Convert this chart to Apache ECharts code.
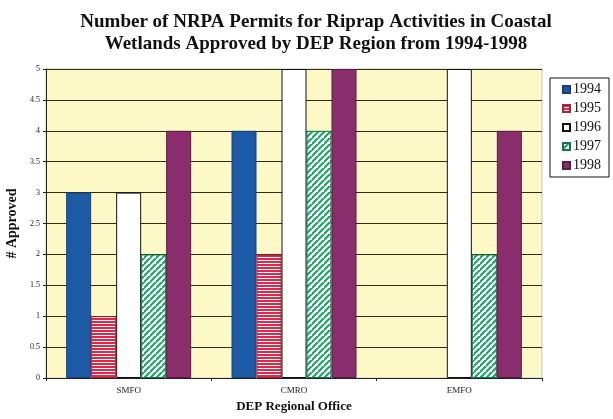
<!DOCTYPE html>
<html>
<head>
<meta charset="utf-8">
<script src="https://cdn.jsdelivr.net/npm/echarts@6/dist/echarts.min.js"></script>
<style>
  html, body { margin: 0; padding: 0; background: #ffffff; }
  #chart { width: 613px; height: 419px; }
</style>
</head>
<body>
<div id="chart"></div>
<script>
// Regional offices on the x axis
const offices = ['SMFO', 'CMRO', 'EMFO'];
// Permit years shown in the legend
const years = ['1994', '1995', '1996', '1997', '1998'];
// Approved permits per office, one array per year
const approved1994 = [3, 4, 0];
const approved1995 = [1, 2, 0];
const approved1996 = [3, 5, 5];
const approved1997 = [2, 4, 2];
const approved1998 = [4, 5, 4];
const yTicks = [0, 0.5, 1, 1.5, 2, 2.5, 3, 3.5, 4, 4.5, 5];

const seriesValues = [approved1994, approved1995, approved1996, approved1997, approved1998];

// Horizontal red/white stripes
function stripePattern() {
  const c = document.createElement('canvas');
  c.width = 4; c.height = 3;
  const g = c.getContext('2d');
  g.fillStyle = '#ffffff'; g.fillRect(0, 0, 4, 3);
  g.fillStyle = '#e0284a'; g.fillRect(0, 0, 4, 2);
  return c;
}
// Diagonal green/white stripes
function diagPattern() {
  const s = 6;
  const c = document.createElement('canvas');
  c.width = s; c.height = s;
  const g = c.getContext('2d');
  g.fillStyle = '#ffffff'; g.fillRect(0, 0, s, s);
  g.strokeStyle = '#1fa36a'; g.lineWidth = 2.2;
  g.beginPath();
  g.moveTo(-1, s + 1); g.lineTo(s + 1, -1);
  g.moveTo(-1 - s, s + 1); g.lineTo(1, -1);
  g.moveTo(s - 1, 2 * s + 1); g.lineTo(2 * s + 1, s - 1);
  g.stroke();
  return c;
}

const fills = [
  '#1c5aa6',
  { image: stripePattern(), repeat: 'repeat' },
  '#ffffff',
  { image: diagPattern(), repeat: 'repeat' },
  '#8a2d6c'
];
const borders = ['#16407a', '#b01e3a', '#111111', '#0f7a48', '#5a1c47'];

const serif = '"Liberation Serif", "DejaVu Serif", serif';

const chart = echarts.init(document.getElementById('chart'), null, { renderer: 'canvas' });

chart.setOption({
  animation: false,
  backgroundColor: '#ffffff',
  title: {
    text: 'Number of NRPA Permits for Riprap Activities in Coastal\nWetlands Approved by DEP Region from 1994-1998',
    left: 311,
    top: 6,
    textAlign: 'center',
    textStyle: {
      fontFamily: serif,
      fontWeight: 'bold',
      fontSize: 19,
      lineHeight: 22,
      color: '#111111'
    }
  },
  legend: {
    data: years,
    orient: 'vertical',
    left: 550,
    top: 78,
    width: 61,
    padding: [4, 8, 4, 12],
    itemGap: 4,
    itemWidth: 7,
    itemHeight: 7,
    icon: 'rect',
    backgroundColor: '#ffffff',
    borderColor: '#111111',
    borderWidth: 1,
    borderRadius: 0,
    textStyle: { fontFamily: serif, fontSize: 14, lineHeight: 15, color: '#111111', padding: [0, 0, 0, -2] }
  },
  grid: {
    left: 46,
    right: 71,
    top: 69,
    bottom: 41,
    outerBoundsMode: 'none',
    containLabel: false,
    show: true,
    backgroundColor: '#fcf9c6',
    borderColor: '#c8c8c0',
    borderWidth: 1
  },
  xAxis: {
    type: 'category',
    data: offices,
    name: 'DEP Regional Office',
    nameLocation: 'middle',
    nameGap: 22,
    nameTextStyle: { fontFamily: serif, fontWeight: 'bold', fontSize: 13, color: '#111111' },
    axisLine: { lineStyle: { color: '#222222', width: 1 } },
    axisTick: { show: true, length: 3, lineStyle: { color: '#222222' } },
    axisLabel: { fontFamily: serif, fontSize: 9, color: '#222222', margin: 8 }
  },
  yAxis: {
    type: 'value',
    min: yTicks[0],
    max: yTicks[yTicks.length - 1],
    interval: 0.5,
    name: '# Approved',
    nameLocation: 'middle',
    nameGap: 25,
    nameTextStyle: { fontFamily: serif, fontWeight: 'bold', fontSize: 14, color: '#111111' },
    axisLine: { show: true, lineStyle: { color: '#222222', width: 1 } },
    axisTick: { show: true, length: 3, lineStyle: { color: '#222222' } },
    axisLabel: { fontFamily: serif, fontSize: 8, color: '#222222', margin: 6 },
    splitLine: { show: true, lineStyle: { color: '#2e2a1a', width: 1 } }
  },
  series: years.map((y, i) => ({
    name: y,
    type: 'bar',
    // zero counts leave an empty slot with no outline
    data: seriesValues[i].map(v => v === 0 ? { value: v, itemStyle: { borderWidth: 0 } } : v),
    barWidth: 25,
    barGap: '0%',
    itemStyle: { color: fills[i], borderColor: borders[i], borderWidth: 1 }
  }))
});
</script>
</body>
</html>
